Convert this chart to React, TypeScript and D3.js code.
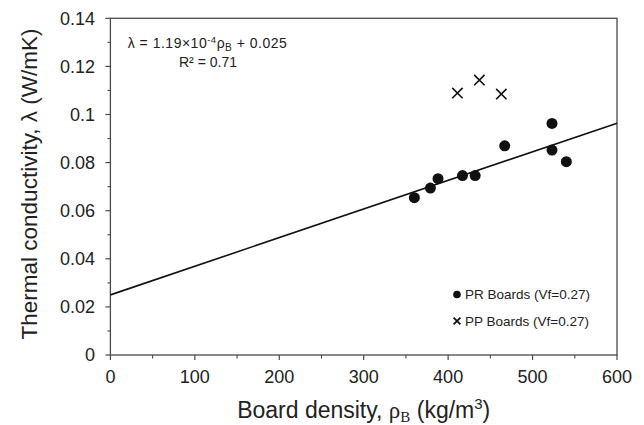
import React from "react";
import * as d3 from "d3";

const prDensity = [360, 379, 388, 417, 432, 467, 523, 523, 540];
const prConductivity = [0.0654, 0.0694, 0.0733, 0.0746, 0.0746, 0.087, 0.0963, 0.0852, 0.0804];
const ppDensity = [411, 437, 463];
const ppConductivity = [0.1089, 0.1143, 0.1085];
const fitSlope = 1.19e-4;
const fitIntercept = 0.025;
const xTicks = [0, 100, 200, 300, 400, 500, 600];
const xMinorTicks = [50, 150, 250, 350, 450, 550];
const yTicks = [0, 0.02, 0.04, 0.06, 0.08, 0.1, 0.12, 0.14];
const yTickLabels = ["0", "0.02", "0.04", "0.06", "0.08", "0.1", "0.12", "0.14"];
const yMinorTicks = [0.01, 0.03, 0.05, 0.07, 0.09, 0.11, 0.13];
const legendLabels = ["PR Boards (Vf=0.27)", "PP Boards (Vf=0.27)"];

const W = 644;
const H = 425;
const left = 110.4;
const right = 617;
const top = 18.3;
const bottom = 355;
const FONT = "'Liberation Sans', Arial, Helvetica, sans-serif";
const SERIF = "'Liberation Serif', 'Times New Roman', serif";
const AXIS = "#4a4a4a";

export default function App() {
  const x = d3.scaleLinear().domain([0, 600]).range([left, right]);
  const y = d3.scaleLinear().domain([0, 0.14]).range([bottom, top]);
  const line = d3
    .line<number>()
    .x((d) => x(d))
    .y((d) => y(fitSlope * d + fitIntercept));
  const cross = (cx: number, cy: number, s: number) =>
    `M${cx - s},${cy - s}L${cx + s},${cy + s}M${cx - s},${cy + s}L${cx + s},${cy - s}`;

  return (
    <svg
      width={W}
      height={H}
      style={{ position: "absolute", left: 0, top: 0, background: "#fff" }}
      fontFamily={FONT}
    >
      <rect x={0} y={0} width={W} height={H} fill="#fff" />
      {/* frame */}
      <rect x={left} y={top} width={right - left} height={bottom - top} fill="none" stroke={AXIS} strokeWidth={1.3} />
      {/* y ticks */}
      {yTicks.map((t, i) => (
        <g key={"yt" + i}>
          <line x1={left - 5} x2={left} y1={y(t)} y2={y(t)} stroke={AXIS} strokeWidth={1.2} />
          <text x={95} y={y(t)} dy="0.36em" textAnchor="end" fontSize={18} fill="#222">
            {yTickLabels[i]}
          </text>
        </g>
      ))}
      {yMinorTicks.map((t, i) => (
        <line key={"ym" + i} x1={left - 3} x2={left} y1={y(t)} y2={y(t)} stroke={AXIS} strokeWidth={1.1} />
      ))}
      {/* x ticks */}
      {xTicks.map((t, i) => (
        <g key={"xt" + i}>
          <line x1={x(t)} x2={x(t)} y1={bottom} y2={bottom + 5} stroke={AXIS} strokeWidth={1.2} />
          <text x={x(t)} y={383.3} textAnchor="middle" fontSize={18} fill="#222">
            {String(t)}
          </text>
        </g>
      ))}
      {xMinorTicks.map((t, i) => (
        <line key={"xm" + i} x1={x(t)} x2={x(t)} y1={bottom} y2={bottom + 3.5} stroke={AXIS} strokeWidth={1.1} />
      ))}
      {/* regression line */}
      <path d={line([0, 600]) || ""} stroke="#111" strokeWidth={1.6} fill="none" />
      {/* PR points */}
      {prDensity.map((d, i) => (
        <circle key={"pr" + i} cx={x(d)} cy={y(prConductivity[i])} r={5.5} fill="#111" />
      ))}
      {/* PP points */}
      {ppDensity.map((d, i) => (
        <path key={"pp" + i} d={cross(x(d), y(ppConductivity[i]), 5.2)} stroke="#111" strokeWidth={1.6} fill="none" />
      ))}
      {/* equation */}
      <text x={207.5} y={48.3} textAnchor="middle" fontSize={14} letterSpacing={0.5} fill="#222">
        λ = 1.19×10<tspan dy={-5} fontSize={9.5}>-4</tspan>
        <tspan dy={5}>ρ</tspan>
        <tspan dy={3} fontSize={10}>B</tspan>
        <tspan dy={-3}> + 0.025</tspan>
      </text>
      <text x={208} y={66.7} textAnchor="middle" fontSize={14} fill="#222">
        R² = 0.71
      </text>
      {/* legend */}
      <circle cx={457} cy={294.5} r={3.8} fill="#111" />
      <text x={465} y={299.3} fontSize={13.5} fill="#222">
        {legendLabels[0]}
      </text>
      <path d={cross(457, 321, 3.4)} stroke="#111" strokeWidth={1.8} fill="none" />
      <text x={465} y={326} fontSize={13.5} fill="#222">
        {legendLabels[1]}
      </text>
      {/* axis titles */}
      <text x={(left + right) / 2} y={418} textAnchor="middle" fontSize={23} fill="#222">
        Board density, <tspan fontFamily={SERIF}>ρ</tspan>
        <tspan fontFamily={SERIF} fontSize={15} dy={4}>B</tspan>
        <tspan dy={-4}> (kg/m</tspan>
        <tspan fontSize={15} dy={-9}>3</tspan>
        <tspan dy={9}>)</tspan>
      </text>
      <text
        transform={`translate(37,184) rotate(-90)`}
        textAnchor="middle"
        fontSize={22.5}
        fill="#222"
      >
        Thermal conductivity, λ (W/mK)
      </text>
    </svg>
  );
}
